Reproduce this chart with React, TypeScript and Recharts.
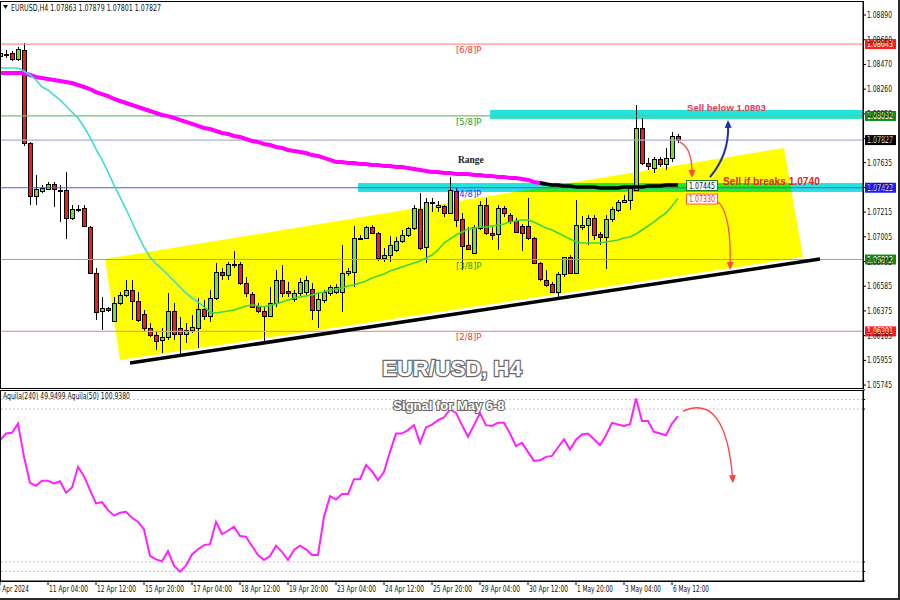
import React from 'react'
import {
  ComposedChart,
  Bar,
  Line,
  XAxis,
  YAxis,
  ReferenceLine,
  ReferenceArea,
  ReferenceDot
} from 'recharts'

// EURUSD H4, one entry per bar, bar -1 = 10 Apr 20:00 ... bar 112 = 6 May 16:00
const openPrices = [
  1.08542, 1.08554, 1.08567, 1.08516, 1.08593, 1.07802, 1.07352, 1.07394, 1.07411, 1.07454,
  1.07403, 1.07403, 1.07165, 1.07241, 1.0725, 1.07088, 1.06697, 1.06374, 1.064, 1.06289,
  1.06442, 1.0651, 1.06553, 1.06459, 1.06349, 1.0623, 1.0617, 1.06128, 1.06153, 1.06374,
  1.0623, 1.06179, 1.06213, 1.0623, 1.06391, 1.06332, 1.06485, 1.06706, 1.0668, 1.06774,
  1.06774, 1.06612, 1.06519, 1.06417, 1.06374, 1.06332, 1.06442, 1.06638, 1.06544, 1.06476,
  1.06527, 1.06536, 1.06561, 1.06383, 1.06468, 1.06527, 1.06536, 1.06536, 1.06697, 1.06706,
  1.06995, 1.06995, 1.07088, 1.07037, 1.06825, 1.0685, 1.06893, 1.06969, 1.0702, 1.0708,
  1.07241, 1.06918, 1.07301, 1.07258, 1.07267, 1.07207, 1.07394, 1.07156, 1.06935, 1.06867,
  1.0708, 1.07275, 1.07037, 1.07029, 1.0725, 1.0719, 1.07139, 1.07097, 1.07097, 1.06995,
  1.06782, 1.06638, 1.06604, 1.06536, 1.06689, 1.06833, 1.06697, 1.07088, 1.07105, 1.07165,
  1.07029, 1.07003, 1.07156, 1.07233, 1.07301, 1.07318, 1.07403, 1.0793, 1.07632, 1.0759,
  1.07666, 1.07624, 1.07675, 1.07863
]
const highPrices = [
  1.08584, 1.08593, 1.08584, 1.08618, 1.08652, 1.0781, 1.0753, 1.07445, 1.07471, 1.07471,
  1.07445, 1.07556, 1.07275, 1.07275, 1.07275, 1.07097, 1.0674, 1.06493, 1.06408, 1.06493,
  1.06536, 1.06638, 1.06638, 1.06536, 1.06383, 1.06272, 1.06196, 1.0623, 1.06527, 1.06442,
  1.06323, 1.06272, 1.0634, 1.06485, 1.06468, 1.06553, 1.06782, 1.0674, 1.06791, 1.06884,
  1.06791, 1.06663, 1.06536, 1.06442, 1.06408, 1.06578, 1.06723, 1.06765, 1.06621, 1.06553,
  1.06655, 1.06672, 1.06612, 1.06527, 1.06553, 1.06595, 1.06604, 1.06935, 1.0674, 1.07097,
  1.0702, 1.07097, 1.07105, 1.07046, 1.0691, 1.07012, 1.07003, 1.07063, 1.07088, 1.07275,
  1.07377, 1.07335, 1.07335, 1.07309, 1.07275, 1.07513, 1.0742, 1.07207, 1.07088, 1.07105,
  1.07309, 1.07335, 1.07088, 1.07275, 1.07267, 1.07207, 1.07165, 1.07114, 1.07335, 1.07003,
  1.06791, 1.06723, 1.06621, 1.06706, 1.06833, 1.0685, 1.07318, 1.07182, 1.0719, 1.0719,
  1.07046, 1.0719, 1.07258, 1.07318, 1.0736, 1.07445, 1.08125, 1.08015, 1.07675, 1.07683,
  1.07683, 1.0776, 1.07896, 1.07879
]
const lowPrices = [
  1.08516, 1.08525, 1.08499, 1.08499, 1.07777, 1.07275, 1.07275, 1.07377, 1.07403, 1.07258,
  1.07131, 1.06986, 1.07148, 1.07216, 1.07088, 1.06689, 1.06298, 1.06213, 1.06366, 1.06281,
  1.06425, 1.06493, 1.06298, 1.06281, 1.06196, 1.06153, 1.06043, 1.06017, 1.06128, 1.06128,
  1.06, 1.06102, 1.06187, 1.0606, 1.06298, 1.06281, 1.06468, 1.06638, 1.06638, 1.0674,
  1.06595, 1.06493, 1.064, 1.06357, 1.06102, 1.06323, 1.06408, 1.06493, 1.06493, 1.06451,
  1.06502, 1.0651, 1.06298, 1.0623, 1.06442, 1.06502, 1.06519, 1.06366, 1.06672, 1.06578,
  1.06986, 1.06986, 1.07029, 1.06799, 1.06791, 1.06791, 1.06876, 1.06952, 1.07003, 1.07063,
  1.06893, 1.06782, 1.07216, 1.07216, 1.07173, 1.072, 1.07088, 1.06723, 1.06893, 1.0686,
  1.07063, 1.0702, 1.06978, 1.06893, 1.07173, 1.07114, 1.07037, 1.06884, 1.06978, 1.06774,
  1.06629, 1.06578, 1.06527, 1.06493, 1.06663, 1.06697, 1.06689, 1.07063, 1.06935, 1.06978,
  1.06935, 1.06731, 1.07131, 1.07216, 1.07292, 1.07233, 1.07394, 1.07615, 1.07573, 1.07547,
  1.07598, 1.07573, 1.07641, 1.07801
]
const closePrices = [
  1.08567, 1.08559, 1.08516, 1.08601, 1.07802, 1.07352, 1.07411, 1.0742, 1.07454, 1.07411,
  1.07398, 1.07165, 1.07241, 1.07237, 1.07097, 1.06697, 1.06366, 1.064, 1.06383, 1.06442,
  1.0651, 1.06553, 1.06459, 1.06298, 1.0623, 1.0617, 1.06119, 1.06153, 1.06374, 1.06179,
  1.06179, 1.06213, 1.06238, 1.06391, 1.06332, 1.06485, 1.06706, 1.0668, 1.06774, 1.06769,
  1.06612, 1.06527, 1.06408, 1.06374, 1.06332, 1.06442, 1.06638, 1.06527, 1.06527, 1.06527,
  1.06621, 1.06638, 1.06383, 1.06476, 1.06536, 1.06578, 1.06578, 1.06697, 1.06714, 1.06995,
  1.06999, 1.07088, 1.07037, 1.06825, 1.0685, 1.06935, 1.06969, 1.0702, 1.0708, 1.0725,
  1.0691, 1.07301, 1.07292, 1.07275, 1.07207, 1.07403, 1.07148, 1.06927, 1.06901, 1.07088,
  1.07275, 1.07037, 1.0702, 1.0725, 1.07207, 1.07139, 1.07046, 1.07037, 1.06995, 1.06782,
  1.06646, 1.06595, 1.06536, 1.06689, 1.06833, 1.067, 1.07105, 1.07105, 1.07165, 1.0702,
  1.07003, 1.07156, 1.07241, 1.07301, 1.07318, 1.0742, 1.0793, 1.07632, 1.07607, 1.07666,
  1.07624, 1.07675, 1.07862, 1.07827
]
// short moving average (turquoise while falling, green after the turn)
const maFast = [
  1.0844, 1.0844, 1.0844, 1.0844, 1.08414, 1.0838, 1.08338, 1.08278, 1.08253, 1.0821,
  1.08168, 1.08117, 1.08065, 1.08015, 1.07938, 1.07853, 1.07751, 1.07658, 1.07556, 1.07445,
  1.07343, 1.07241, 1.07131, 1.0702, 1.06918, 1.06833, 1.06774, 1.06731, 1.0668, 1.06629,
  1.06578, 1.06527, 1.06485, 1.06451, 1.06408, 1.06366, 1.06357, 1.06366, 1.06374, 1.06383,
  1.064, 1.06417, 1.06425, 1.06417, 1.06408, 1.06425, 1.06434, 1.06451, 1.06468, 1.06485,
  1.06493, 1.06502, 1.0651, 1.06527, 1.06536, 1.06553, 1.06561, 1.0657, 1.06587, 1.06595,
  1.06612, 1.06629, 1.06655, 1.06672, 1.06689, 1.06714, 1.06731, 1.06748, 1.06765, 1.06782,
  1.06799, 1.06825, 1.0685, 1.06893, 1.06952, 1.06986, 1.0702, 1.07046, 1.07071, 1.0708,
  1.07088, 1.07088, 1.07097, 1.07105, 1.07114, 1.07131, 1.07139, 1.07148, 1.07148, 1.07131,
  1.07105, 1.0708, 1.07063, 1.07037, 1.07012, 1.06986, 1.06961, 1.06952, 1.06952, 1.06952,
  1.06952, 1.06961, 1.06969, 1.06978, 1.06995, 1.07003, 1.07029, 1.07063, 1.07097, 1.07131,
  1.07173, 1.07207, 1.07267, 1.0733
]
// long moving average (magenta), bars -1 .. 90
const maSlow = [
  1.08397, 1.08397, 1.08397, 1.08397, 1.08397, 1.0838, 1.08363, 1.08355, 1.08346, 1.08338,
  1.08329, 1.08321, 1.08312, 1.08295, 1.08278, 1.08261, 1.08235, 1.08218, 1.08201, 1.08176,
  1.08159, 1.08142, 1.08125, 1.08108, 1.08091, 1.08074, 1.08057, 1.0804, 1.08031, 1.08015,
  1.07998, 1.07981, 1.07964, 1.07947, 1.0793, 1.07921, 1.07904, 1.07887, 1.07879, 1.07862,
  1.07853, 1.07836, 1.07819, 1.07811, 1.07794, 1.07785, 1.07768, 1.0776, 1.07743, 1.07734,
  1.07726, 1.07717, 1.077, 1.07692, 1.07675, 1.07658, 1.07641, 1.07641, 1.07632, 1.07632,
  1.07624, 1.07624, 1.07615, 1.07615, 1.07607, 1.07607, 1.07598, 1.07598, 1.0759, 1.07581,
  1.07573, 1.07564, 1.07556, 1.07556, 1.07547, 1.07547, 1.07539, 1.07539, 1.07539, 1.0753,
  1.0753, 1.07522, 1.07522, 1.07513, 1.07513, 1.07505, 1.07505, 1.07496, 1.07488, 1.07471,
  1.07462, 1.07454
]
// black average, bars 89 .. 112
const maBlack = [
  1.07462, 1.07454, 1.07445, 1.07445, 1.07437, 1.07437, 1.07428, 1.07428, 1.07428, 1.07428,
  1.0742, 1.0742, 1.0742, 1.0742, 1.07428, 1.07428, 1.07428, 1.07428, 1.07437, 1.07437,
  1.07437, 1.07445, 1.07445, 1.07445
]
// Aquila(50) oscillator
const aquila = [
  73.7, 77.2, 77.6, 82.4, 65.0, 51.4, 49.8, 52.5, 52.5, 51.1,
  52.2, 46.2, 49.0, 59.8, 54.9, 47.6, 40.6, 41.3, 37.1, 34.2,
  35.7, 36.2, 33.1, 31.0, 27.0, 13.2, 11.3, 10.3, 15.7, 8.0,
  4.9, 8.0, 13.9, 16.6, 18.8, 19.3, 31.0, 24.6, 26.3, 28.4,
  23.5, 23.2, 18.3, 13.6, 11.0, 13.1, 18.5, 15.3, 11.0, 16.2,
  18.5, 16.6, 13.6, 13.6, 33.6, 44.4, 42.7, 45.5, 45.5, 53.3,
  53.3, 60.7, 57.5, 52.8, 57.2, 67.6, 77.2, 77.2, 79.0, 81.6,
  72.3, 80.4, 81.9, 84.2, 85.6, 89.8, 88.0, 81.6, 75.5, 81.6,
  88.0, 81.6, 81.2, 82.8, 82.8, 77.2, 70.6, 72.3, 67.6, 62.9,
  63.2, 65.0, 65.5, 69.9, 74.2, 68.8, 74.0, 76.7, 77.2, 74.2,
  71.1, 76.3, 82.8, 81.9, 81.2, 82.1, 95.5, 83.8, 83.8, 78.1,
  77.2, 76.3, 82.4, 86.3
]

const priceTicks = [
  1.0889, 1.0868, 1.0847, 1.0826, 1.0805, 1.0784, 1.07635, 1.07425, 1.07215, 1.07005,
  1.06795, 1.06585, 1.06375, 1.06165, 1.05955, 1.05745
]
const aquilaTicks = [0, 5, 10, 90, 95, 100]
const aquilaLevels = [95, 90, 10, 5]
const timeTicks = [-1, 7, 15, 23, 31, 39, 47, 55, 63, 71, 79, 87, 95, 103, 111]
const timeLabels = [
  '10 Apr 2024', '11 Apr 04:00', '12 Apr 12:00', '15 Apr 20:00', '17 Apr 04:00',
  '18 Apr 12:00', '19 Apr 20:00', '23 Apr 04:00', '24 Apr 12:00', '25 Apr 20:00',
  '29 Apr 04:00', '30 Apr 12:00', '1 May 20:00', '3 May 04:00', '6 May 12:00'
]

// Murrey levels and current price
const levelPrices = [1.08643, 1.08032, 1.07827, 1.07422, 1.06812, 1.06201]
const levelTags = ['[6/8]P', '[5/8]P', '', '[4/8]P', '[3/8]P', '[2/8]P']

// drawn objects (bar index, price)
const channelX = [16.5, 129.67, 132.83, 19]
const channelY = [1.06816, 1.0776, 1.06833, 1.05958]
const trendX = [20.67, 135.67]
const trendY = [1.05932, 1.06816]
const bandFrom = [80.67, 58.67]
const bandLow = [1.08006, 1.07386]
const bandHigh = [1.08083, 1.07462]

const FIRST_BAR = -1
const X_MAX = FIRST_BAR + 863 / 6
const MA_TURN = 33
const BLACK_FROM = 89
const Y_MIN = 1.0572
const Y_MAX = 1.09009

const LINE_COLORS = ['#ff8f8f', '#74c074', '#a9b3c8', '#5050ff', '#74c074', '#ff8f8f']
const BOX_COLORS = ['#ff1c1c', '#148c14', '#000000', '#1c1cff', '#148c14', '#ff1c1c']
const TAG_COLORS = ['#e83434', '#2b9a2b', '#000', '#3434ff', '#2b9a2b', '#e83434']

const bars = closePrices.map((close, k) => {
  const i = k + FIRST_BAR
  return {
    i,
    open: openPrices[k],
    high: highPrices[k],
    low: lowPrices[k],
    close,
    maDown: i <= MA_TURN ? maFast[k] : null,
    maUp: i >= MA_TURN ? maFast[k] : null,
    maSlow: maSlow[k] ?? null,
    maBlack: i >= BLACK_FROM ? maBlack[i - BLACK_FROM] ?? null : null
  }
})
const oscRows = aquila.map((v, k) => ({ i: k + FIRST_BAR, aquila: v }))

function Candle(props: any) {
  const { x, y, width, height, payload } = props
  if (x == null || !payload) return null
  const top = Math.min(y, y + height)
  const h = Math.abs(height)
  const { open, high, low, close } = payload
  const k = high > low ? h / (high - low) : 0
  const py = (p: number) => top + (high - p) * k
  const cx = Math.round(x + width / 2) + 0.5
  const bTop = Math.round(py(Math.max(open, close))) + 0.5
  const bBot = Math.round(py(Math.min(open, close))) + 0.5
  return (
    <g>
      <line x1={cx} x2={cx} y1={top} y2={top + h} stroke="#000" strokeWidth={1} />
      <rect
        x={cx - 2}
        y={bTop}
        width={4}
        height={Math.max(1, bBot - bTop)}
        fill={close >= open ? '#7ddc2e' : '#ee1c1c'}
        stroke="#000"
        strokeWidth={1}
      />
    </g>
  )
}

const PriceTick = (p: any) => (
  <text x={p.x + 1} y={p.y + 3} fontSize={9} fontFamily="DejaVu Sans" fill="#111"
    textLength={25} lengthAdjust="spacingAndGlyphs">
    {Number(p.payload.value).toFixed(5)}
  </text>
)

const OscTick = (p: any) => {
  const yy = Math.min(Math.max(p.y, 393), 577)
  return (
    <text x={p.x + 1} y={yy + 3} fontSize={8} fontFamily="DejaVu Sans" fill="#111">
      {p.payload.value}
    </text>
  )
}

const TimeTick = (p: any) => {
  const idx = timeTicks.indexOf(p.payload.value)
  const label = timeLabels[idx] ?? ''
  const start = idx === 0 ? p.x - 7 : p.x + 1
  return (
    <text x={start} y={p.y + 7} fontSize={9} fontFamily="DejaVu Sans" fill="#111"
      textLength={Math.round(label.length * 3.25)} lengthAdjust="spacingAndGlyphs">
      {label}
    </text>
  )
}

// curved arrow along a segment; a = position of control along it, b = sideways offset
function curvedArrow(color: string, width: number, a: number, b: number) {
  return (p: any) => {
    const { x1, y1, x2, y2 } = p
    if (x1 == null) return null
    const dx = x2 - x1
    const dy = y2 - y1
    const len = Math.hypot(dx, dy)
    const nx = -dy / len
    const ny = dx / len
    const cx = x1 + a * dx + b * nx * len
    const cy = y1 + a * dy + b * ny * len
    const tx = x2 - cx
    const ty = y2 - cy
    const tl = Math.hypot(tx, ty)
    const ux = tx / tl
    const uy = ty / tl
    const bx = x2 - ux * 8
    const by = y2 - uy * 8
    const head = `${x2},${y2} ${bx - uy * 3.5},${by + ux * 3.5} ${bx + uy * 3.5},${by - ux * 3.5}`
    return (
      <g>
        <path d={`M${x1},${y1} Q${cx},${cy} ${bx + ux * 2},${by + uy * 2}`} fill="none" stroke={color} strokeWidth={width} />
        <polygon points={head} fill={color} />
      </g>
    )
  }
}

const textAt = (text: string, style: any) => (p: any) => (
  <text x={p.cx} y={p.cy} {...style}>{text}</text>
)

const valueBox = (text: string, border: string, color: string) => (p: any) => (
  <g>
    <rect x={p.cx + 0.5} y={p.cy - 4.5} width={31} height={10} fill="#fff" stroke={border} strokeWidth={1} />
    <text x={p.cx + 3} y={p.cy + 3.5} fontSize={9} fontFamily="DejaVu Sans" fill={color}
      textLength={26} lengthAdjust="spacingAndGlyphs">{text}</text>
  </g>
)

const axisBox = (text: string, bg: string) => (p: any) => (
  <g>
    <rect x={p.cx + 2} y={p.cy - 5} width={31} height={10} fill={bg} />
    <text x={p.cx + 4} y={p.cy + 3} fontSize={9} fontFamily="DejaVu Sans" fill="#fff"
      textLength={26} lengthAdjust="spacingAndGlyphs">{text}</text>
  </g>
)

const cx0 = Math.min(...channelX)
const cx1 = Math.max(...channelX)
const cy0 = Math.min(...channelY)
const cy1 = Math.max(...channelY)
const channelShape = (p: any) => {
  const pts = channelX
    .map((v, k) => `${p.x + ((v - cx0) / (cx1 - cx0)) * p.width},${p.y + ((cy1 - channelY[k]) / (cy1 - cy0)) * p.height}`)
    .join(' ')
  return <polygon points={pts} fill="#ffff00" />
}

type Pt = [number, number]
// clip a convex polygon against one half-plane (Sutherland-Hodgman step)
function clipHalf(poly: Pt[], inside: (p: Pt) => boolean, cut: (a: Pt, b: Pt) => Pt): Pt[] {
  const out: Pt[] = []
  for (let k = 0; k < poly.length; k++) {
    const cur = poly[k]
    const prev = poly[(k + poly.length - 1) % poly.length]
    const inCur = inside(cur)
    const inPrev = inside(prev)
    if (inCur) {
      if (!inPrev) out.push(cut(prev, cur))
      out.push(cur)
    } else if (inPrev) {
      out.push(cut(prev, cur))
    }
  }
  return out
}
const atY = (yy: number) => (a: Pt, b: Pt): Pt => [a[0] + ((yy - a[1]) / (b[1] - a[1])) * (b[0] - a[0]), yy]
const atX = (xx: number) => (a: Pt, b: Pt): Pt => [xx, a[1] + ((xx - a[0]) / (b[0] - a[0])) * (b[1] - a[1])]

// cyan band; where it lies over the yellow channel MT4 shows the mixed colour (green)
const bandShape = (k: number) => (p: any) => {
  const x0 = bandFrom[k]
  const lo = bandLow[k]
  const hi = bandHigh[k]
  let poly: Pt[] = channelX.map((v, j) => [
    p.x + ((v - x0) / (X_MAX - x0)) * p.width,
    p.y + ((hi - channelY[j]) / (hi - lo)) * p.height
  ])
  const top = p.y
  const bottom = p.y + p.height
  const left = p.x
  poly = clipHalf(poly, (q) => q[1] >= top, atY(top))
  poly = clipHalf(poly, (q) => q[1] <= bottom, atY(bottom))
  poly = clipHalf(poly, (q) => q[0] >= left, atX(left))
  return (
    <g>
      <rect x={p.x} y={p.y} width={p.width} height={p.height} fill="#22e4dc" />
      {poly.length > 2 ? <polygon points={poly.map((q) => `${q[0]},${q[1]}`).join(' ')} fill="#22ea22" /> : null}
    </g>
  )
}

export default function App() {
  return (
    <div style={{ position: 'fixed', left: 0, top: 0, width: 900, height: 600, background: '#fff', overflow: 'hidden' }}>
      <div style={{ position: 'absolute', left: 0, top: 0 }}>
        <ComposedChart width={900} height={389} data={bars} margin={{ top: 1, right: 0, bottom: 1, left: 0 }}>
          <XAxis dataKey="i" type="number" domain={[FIRST_BAR, X_MAX]} allowDataOverflow hide />
          <YAxis
            orientation="right"
            type="number"
            domain={[Y_MIN, Y_MAX]}
            allowDataOverflow
            ticks={priceTicks}
            interval={0}
            width={37}
            tickSize={3}
            tickMargin={0}
            stroke="#000"
            tick={PriceTick}
          />
          <ReferenceArea x1={cx0} x2={cx1} y1={cy0} y2={cy1} shape={channelShape} />
          {bandFrom.map((from, k) => (
            <ReferenceArea key={`band-${k}`} x1={from} x2={X_MAX} y1={bandLow[k]} y2={bandHigh[k]} shape={bandShape(k)} />
          ))}
          {levelPrices.map((price, k) => (
            <ReferenceLine key={`lvl-${k}`} y={price} stroke={LINE_COLORS[k]} strokeWidth={1.2} />
          ))}
          <Line dataKey="maSlow" stroke="#ff00ff" strokeWidth={4} dot={false} isAnimationActive={false} />
          <Line dataKey="maDown" stroke="#3fdcd2" strokeWidth={1.6} dot={false} isAnimationActive={false} />
          <Line dataKey="maUp" stroke="#3fd63f" strokeWidth={1.6} dot={false} isAnimationActive={false} />
          <Line dataKey="maBlack" stroke="#000" strokeWidth={3.5} dot={false} isAnimationActive={false} />
          <Bar dataKey={(d: any) => [d.low, d.high]} barSize={5} shape={Candle} isAnimationActive={false} />
          <ReferenceLine
            segment={[{ x: trendX[0], y: trendY[0] }, { x: trendX[1], y: trendY[1] }]}
            stroke="#000"
            strokeWidth={3.5}
          />
          {levelPrices.map((price, k) =>
            levelTags[k] ? (
              <ReferenceDot key={`tag-${k}`} x={75} y={price} r={0}
                shape={textAt(levelTags[k], { dy: 9, fontSize: 8.5, fontFamily: 'DejaVu Sans', fill: TAG_COLORS[k] })} />
            ) : null
          )}
          {levelPrices.map((price, k) => (
            <ReferenceDot key={`box-${k}`} x={X_MAX} y={price} r={0} shape={axisBox(price.toFixed(5), BOX_COLORS[k])} />
          ))}
          <ReferenceDot x={75.33} y={1.07658} r={0}
            shape={textAt('Range', { fontSize: 9.5, fontFamily: 'Liberation Serif', fontWeight: 'bold', fill: '#222', dominantBaseline: 'central' })} />
          <ReferenceDot x={113.5} y={1.081} r={0}
            shape={textAt('Sell below 1.0803', { fontSize: 9.6, fontFamily: 'Liberation Sans', fontWeight: 'bold', fill: '#e8384f', dominantBaseline: 'central' })} />
          <ReferenceDot x={119.5} y={1.07479} r={0}
            shape={textAt('Sell if breaks 1.0740', { fontSize: 10.2, fontFamily: 'Liberation Sans', fontWeight: 'bold', fill: '#e02626', dominantBaseline: 'central' })} />
          <ReferenceDot x={113.33} y={1.07445} r={0} shape={valueBox('1.07445', '#1f7a1f', '#111')} />
          <ReferenceDot x={113.33} y={1.0733} r={0} shape={valueBox('1.07330', '#ff5a1e', '#ff2a00')} />
          <ReferenceLine segment={[{ x: 112.33, y: 1.0781 }, { x: 114.33, y: 1.07504 }]}
            shape={curvedArrow('#ff4a4a', 1.3, 0.25, -0.25)} />
          <ReferenceLine segment={[{ x: 117.33, y: 1.07513 }, { x: 120.33, y: 1.07998 }]}
            shape={curvedArrow('#2030b0', 2, 0.45, 0.19)} />
          <ReferenceLine segment={[{ x: 118.5, y: 1.07309 }, { x: 120.67, y: 1.06723 }]}
            shape={curvedArrow('#ff4a4a', 1.3, 0.19, -0.17)} />
          <ReferenceDot x={74.33} y={1.05889} r={0}
            shape={textAt('EUR/USD, H4', {
              fontSize: 22, fontFamily: 'Liberation Sans', fontWeight: 'bold', fill: '#fff',
              stroke: '#6a6a6a', strokeWidth: 2.5, paintOrder: 'stroke', textAnchor: 'middle', dominantBaseline: 'central'
            })} />
        </ComposedChart>
      </div>

      <div style={{ position: 'absolute', left: 0, top: 389 }}>
        <ComposedChart width={900} height={211} data={oscRows} margin={{ top: 1, right: 0, bottom: 0, left: 0 }}>
          <XAxis
            dataKey="i"
            type="number"
            domain={[FIRST_BAR, X_MAX]}
            allowDataOverflow
            ticks={timeTicks}
            interval={0}
            height={19}
            tickSize={4}
            tickMargin={0}
            stroke="#000"
            tick={TimeTick}
          />
          <YAxis
            orientation="right"
            type="number"
            domain={[0, 100]}
            ticks={aquilaTicks}
            interval={0}
            width={37}
            tickSize={2}
            tickMargin={0}
            stroke="#000"
            tick={OscTick}
          />
          {aquilaLevels.map((v) => (
            <ReferenceLine key={`al-${v}`} y={v} stroke="#c4c4c4" strokeDasharray="2 2" />
          ))}
          <Line dataKey="aquila" stroke="#ff22ff" strokeWidth={2} dot={false} isAnimationActive={false} />
          <ReferenceLine segment={[{ x: 112.83, y: 88.9 }, { x: 121.17, y: 51.2 }]}
            shape={curvedArrow('#ff4040', 1.3, 0.1, -0.52)} />
          <ReferenceDot x={73.83} y={92} r={0}
            shape={textAt('Signal for May 6-8', {
              fontSize: 13, fontFamily: 'Liberation Sans', fontWeight: 'bold', fill: '#fff',
              stroke: '#6a6a6a', strokeWidth: 2.2, paintOrder: 'stroke', textAnchor: 'middle', dominantBaseline: 'central'
            })} />
        </ComposedChart>
      </div>

      <div style={{ position: 'absolute', left: 0, top: 1, width: 864, height: 388, border: '1px solid #000', boxSizing: 'border-box', pointerEvents: 'none' }} />
      <div style={{ position: 'absolute', left: 0, top: 390, width: 864, height: 192, border: '1px solid #000', boxSizing: 'border-box', pointerEvents: 'none' }} />
      <div style={{ position: 'absolute', left: 0, top: 0, width: 900, height: 600, borderRight: '2px solid #2b2b2b', borderBottom: '2px solid #2b2b2b', boxSizing: 'border-box', pointerEvents: 'none' }} />

      <svg width={900} height={600} style={{ position: 'absolute', left: 0, top: 0, pointerEvents: 'none' }}>
        <polygon points="3,5 8,5 5.5,9" fill="#111" />
        <text x={11} y={10.5} fontSize={9} fontFamily="DejaVu Sans" fill="#111" textLength={150} lengthAdjust="spacingAndGlyphs">
          EURUSD,H4  1.07863 1.07879 1.07801 1.07827
        </text>
        <text x={3} y={399} fontSize={9} fontFamily="DejaVu Sans" fill="#111" textLength={127} lengthAdjust="spacingAndGlyphs">
          Aquila(240) 49.9499  Aquila(50) 100.9380
        </text>
      </svg>
    </div>
  )
}
